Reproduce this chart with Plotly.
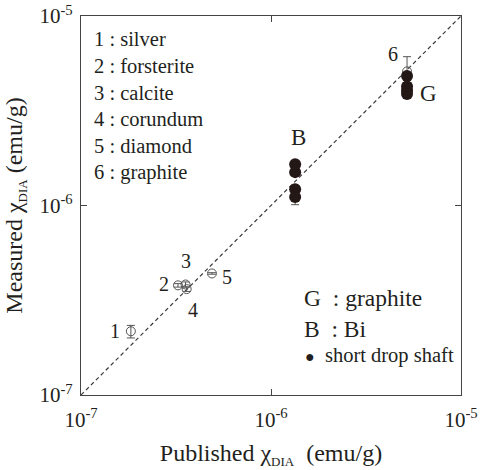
import math
import plotly.graph_objects as go

# ---- data ----
labels = ["1", "2", "3", "4", "5", "6"]
names = ["silver", "forsterite", "calcite", "corundum", "diamond", "graphite"]
pub_x = [1.83e-7, 3.24e-7, 3.55e-7, 3.6e-7, 4.89e-7, 5.2e-6]
meas_y = [2.17e-7, 3.79e-7, 3.83e-7, 3.62e-7, 4.38e-7, 5.1e-6]
err_plus = [0.16e-7, 0.08e-7, 0.12e-7, 0.1e-7, 0.04e-7, 1.0e-6]
err_minus = [0.17e-7, 0.08e-7, 0.12e-7, 0.1e-7, 0.04e-7, 0.3e-6]

bi_x = [1.34e-6, 1.34e-6, 1.34e-6, 1.34e-6]
bi_y = [1.65e-6, 1.5e-6, 1.22e-6, 1.11e-6]
bi_err_minus = [0, 0, 0, 0.1e-6]

gr_x = [5.2e-6, 5.2e-6, 5.2e-6, 5.2e-6]
gr_y = [4.83e-6, 4.25e-6, 4.05e-6, 3.88e-6]

diag = [1e-7, 1e-5]
tick_vals = [1e-7, 1e-6, 1e-5]
tick_text = ["10<sup>-7</sup>", "10<sup>-6</sup>", "10<sup>-5</sup>"]

TXT = "#231f20"
DOT = "#231815"
FONT = "Liberation Serif"

fig = go.Figure()

fig.add_trace(go.Scatter(
    x=diag, y=diag, mode="lines",
    line=dict(color="#3a3a3a", width=1.2, dash="4px,3px"),
    hoverinfo="skip", showlegend=False))

fig.add_trace(go.Scatter(
    x=pub_x, y=meas_y, mode="markers",
    marker=dict(symbol="circle-open", size=9, color="#555555", line=dict(width=1)),
    error_y=dict(type="data", symmetric=False, array=err_plus, arrayminus=err_minus,
                 color="#555555", thickness=1, width=4),
    showlegend=False))

fig.add_trace(go.Scatter(
    x=bi_x, y=bi_y, mode="markers",
    marker=dict(symbol="circle", size=12, color=DOT),
    error_y=dict(type="data", symmetric=False, array=[0, 0, 0, 0], arrayminus=bi_err_minus,
                 color="#555555", thickness=1, width=4),
    showlegend=False))

fig.add_trace(go.Scatter(
    x=gr_x, y=gr_y, mode="markers",
    marker=dict(symbol="circle", size=12, color=DOT),
    showlegend=False))

# point number labels
offsets = [(-16, 0), (-14, 1), (0, 23), (6, -21), (15, -4), (-14, 17)]
anns = []
for lab, x, y, (dx, dy) in zip(labels, pub_x, meas_y, offsets):
    anns.append(dict(x=math.log10(x), y=math.log10(y), xref="x", yref="y",
                     text=lab, showarrow=False, xshift=dx, yshift=dy,
                     font=dict(family=FONT, size=20, color=TXT)))
anns.append(dict(x=math.log10(bi_x[0]), y=math.log10(bi_y[0]), xref="x", yref="y",
                 text="B", showarrow=False, xshift=3, yshift=27,
                 font=dict(family=FONT, size=23, color=TXT)))
anns.append(dict(x=math.log10(gr_x[0]), y=math.log10(gr_y[-1]), xref="x", yref="y",
                 text="G", showarrow=False, xshift=21, yshift=0,
                 font=dict(family=FONT, size=23, color=TXT)))

# left legend
x0, top, bot = 81, 16, 395
H = bot - top
for i, (lab, nm) in enumerate(zip(labels, names)):
    ypx = 39 + 26.8 * i
    anns.append(dict(x=(92 - x0) / 380, y=(bot - ypx) / H, xref="paper", yref="paper",
                     xanchor="left", yanchor="middle", text=f"{lab} : {nm}", showarrow=False,
                     font=dict(family=FONT, size=20.5, color=TXT)))

# right legend
anns.append(dict(x=(302 - x0) / 380, y=(bot - 298) / H, xref="paper", yref="paper",
                 xanchor="left", yanchor="middle", text="G  : graphite", showarrow=False,
                 font=dict(family=FONT, size=23.5, color=TXT)))
anns.append(dict(x=(302 - x0) / 380, y=(bot - 329) / H, xref="paper", yref="paper",
                 xanchor="left", yanchor="middle", text="B  : Bi", showarrow=False,
                 font=dict(family=FONT, size=23.5, color=TXT)))
anns.append(dict(x=(303 - x0) / 380, y=(bot - 355) / H, xref="paper", yref="paper",
                 xanchor="left", yanchor="middle",
                 text="<span style='font-size:16px'>●</span>  short drop shaft",
                 showarrow=False, font=dict(family=FONT, size=20.5, color=TXT)))

axis_common = dict(
    type="log", range=[-7, -5], tickvals=tick_vals, ticktext=tick_text,
    ticks="inside", ticklen=6, tickcolor="#444444", tickwidth=1,
    showline=True, linecolor="#444444", linewidth=1.2, mirror="ticks",
    showgrid=False, zeroline=False, automargin=False,
    tickfont=dict(family=FONT, size=21, color=TXT),
    title_font=dict(family=FONT, size=24, color=TXT),
)

SUB = "<sub><span style='font-size:13px'>DIA</span></sub>"

fig.update_layout(
    width=481, height=470,
    margin=dict(l=81, r=20, t=16, b=75),
    paper_bgcolor="white", plot_bgcolor="white",
    font=dict(family=FONT, color=TXT),
    xaxis=dict(**axis_common, ticklabelstandoff=6,
               title=dict(text=f"Published χ{SUB}  (emu/g)", standoff=12)),
    yaxis=dict(**axis_common, ticklabelstandoff=3,
               title=dict(text=f"Measured χ{SUB} (emu/g)", standoff=10)),
    annotations=anns,
    showlegend=False,
)

fig.write_html("out.html")
